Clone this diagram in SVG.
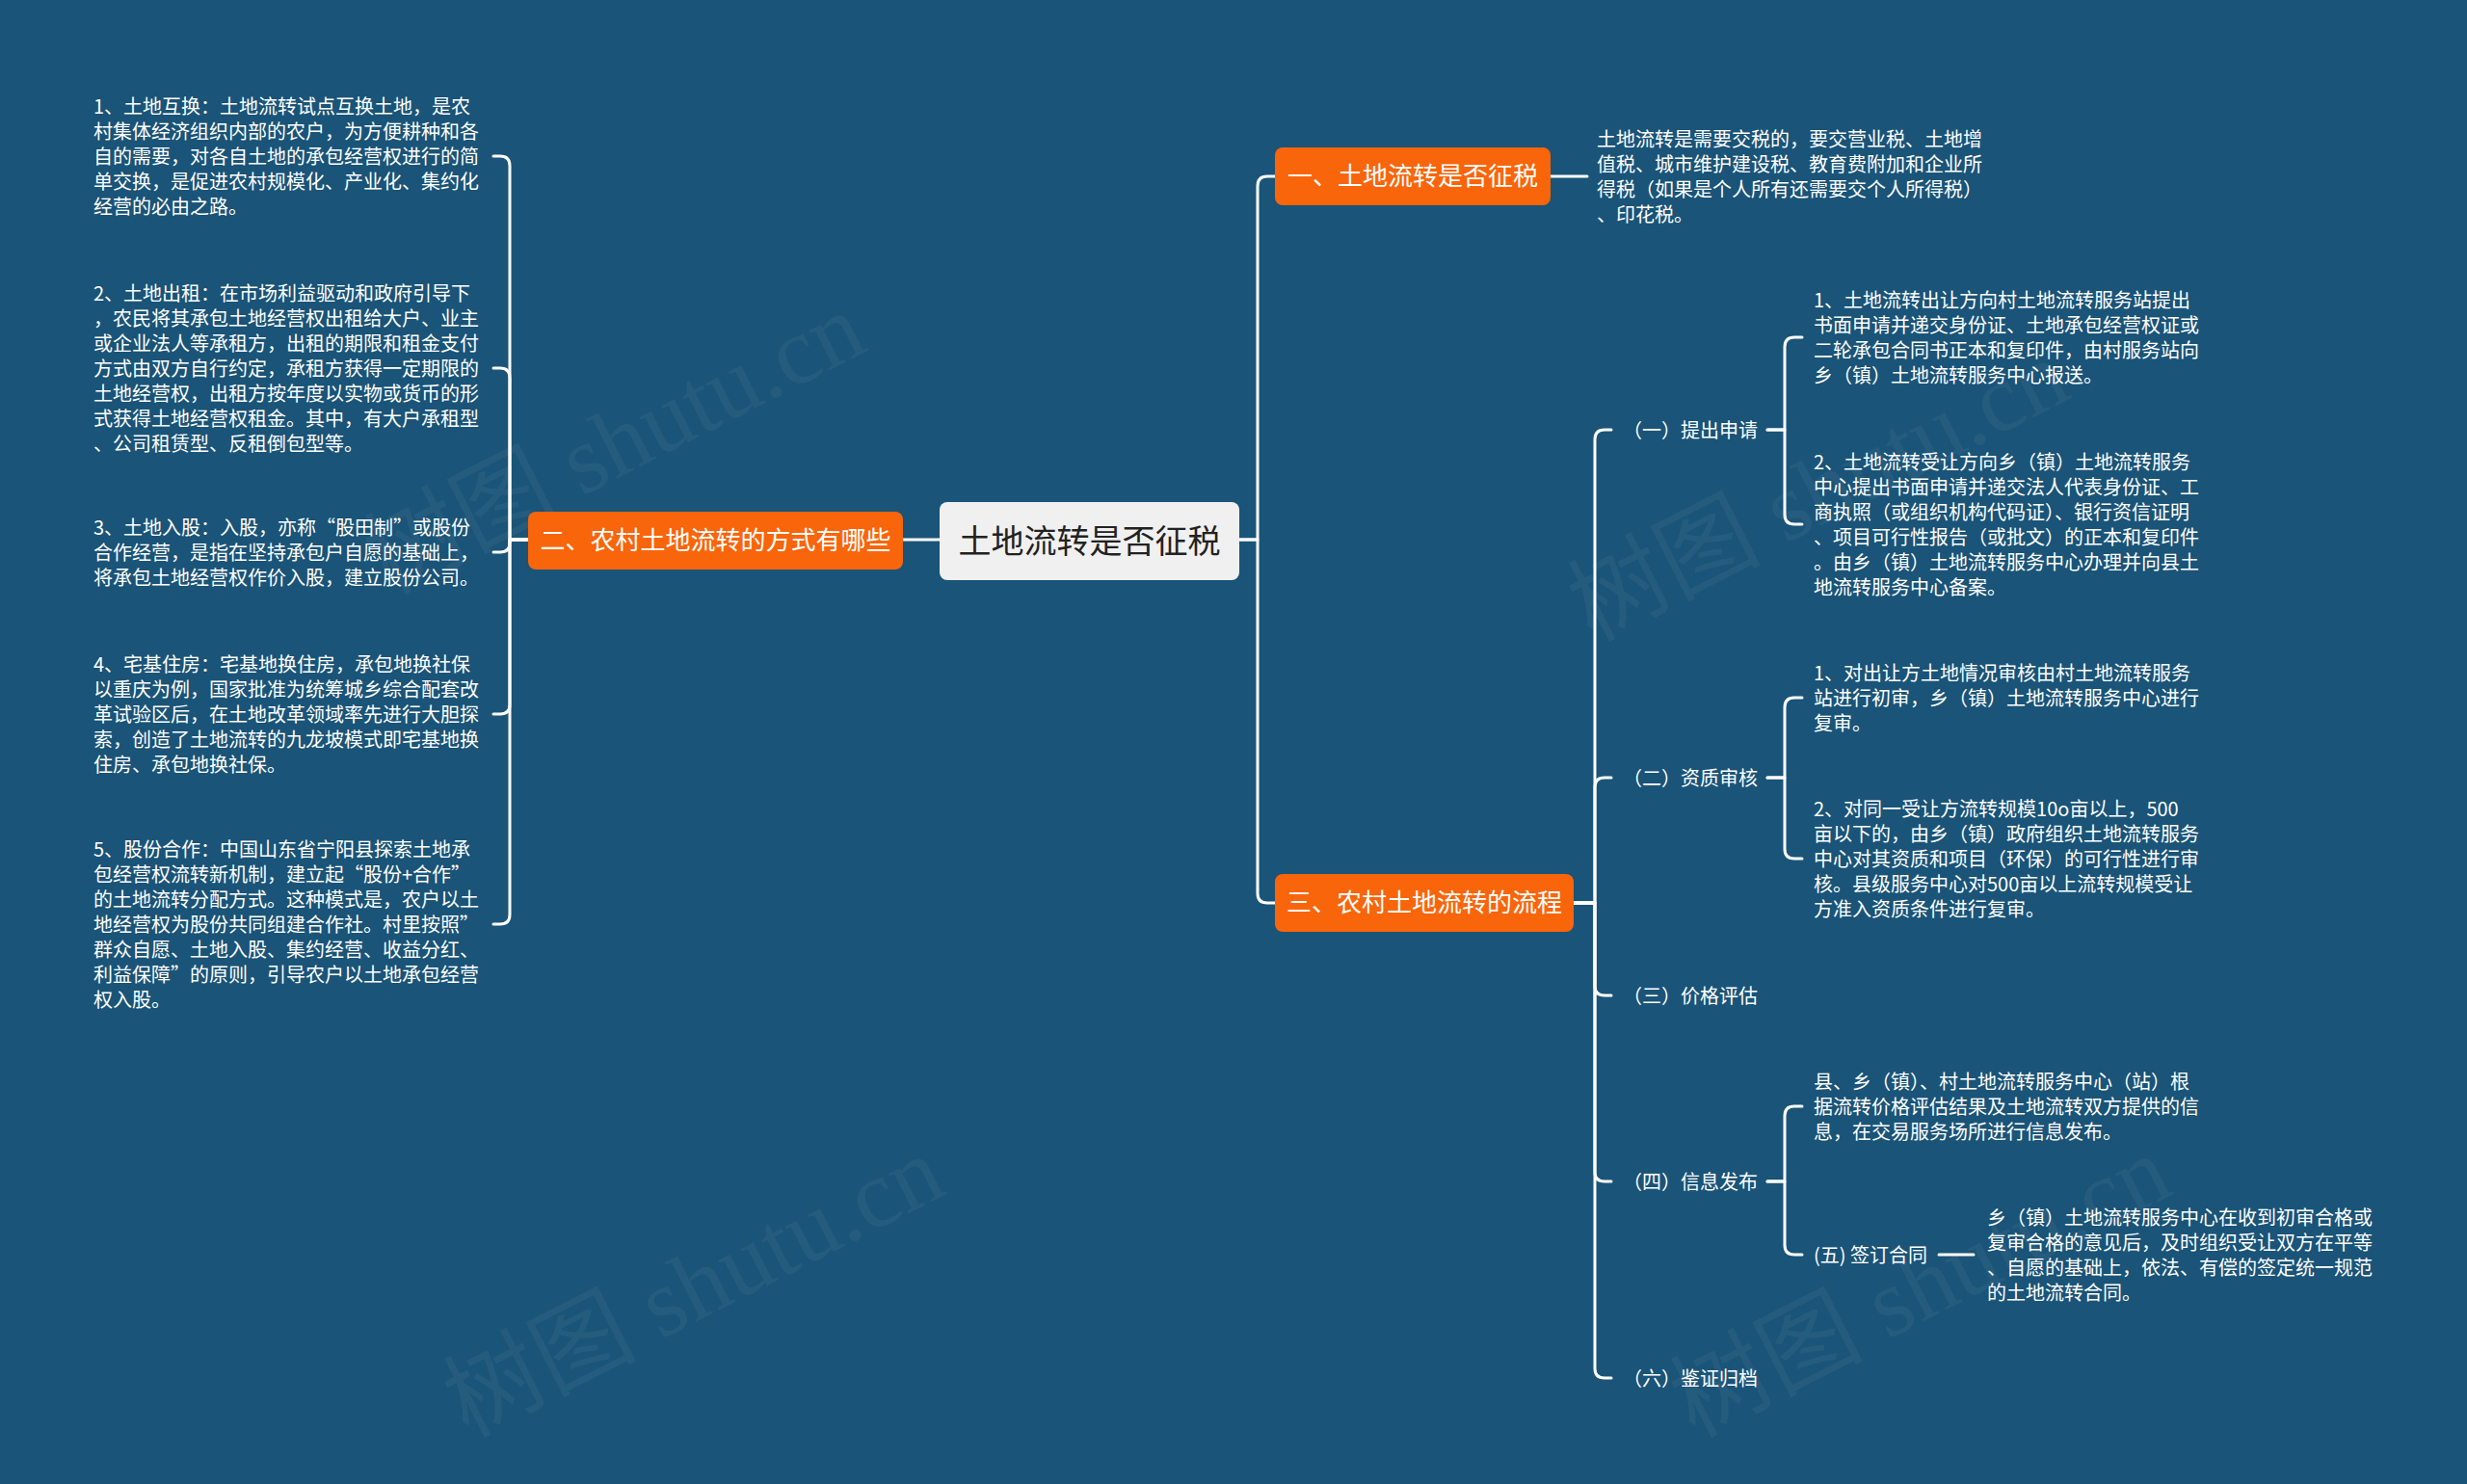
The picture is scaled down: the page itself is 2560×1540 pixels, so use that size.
<svg xmlns="http://www.w3.org/2000/svg" width="2560" height="1540" viewBox="0 0 2560 1540">
<style>
.bg{fill:#1a5478}
.wm{font-family:"Liberation Serif","Noto Sans CJK SC",serif;font-size:100px;fill:#ffffff;fill-opacity:0.05}
.conn{fill:none;stroke:#ffffff;stroke-width:3;stroke-linecap:round;stroke-linejoin:round}
.orange{fill:#f9650a}
.root{fill:#f0f0f0}
.t-root{font-family:"Noto Sans CJK SC","Noto Sans",sans-serif;font-size:34px;fill:#222222;text-anchor:middle}
.t-main{font-family:"Noto Sans CJK SC","Noto Sans",sans-serif;font-size:26px;fill:#ffffff;text-anchor:middle}
.t-body{font-family:"Noto Sans CJK SC","Noto Sans",sans-serif;font-size:20px;fill:#ffffff}
</style>
<rect class="bg" x="0" y="0" width="2560" height="1540"/>

<g id="watermarks">
<text class="wm" transform="translate(653,490) rotate(-27)" text-anchor="middle">树图 shutu.cn</text>
<text class="wm" transform="translate(1902,539) rotate(-27)" text-anchor="middle">树图 shutu.cn</text>
<text class="wm" transform="translate(735,1365) rotate(-27)" text-anchor="middle">树图 shutu.cn</text>
<text class="wm" transform="translate(2008,1365) rotate(-27)" text-anchor="middle">树图 shutu.cn</text>
</g>

<g id="connectors">
<!-- root to main branches -->
<path class="conn" d="M975,560 H937"/>
<path class="conn" d="M1286,560 H1305 V193 Q1305,183 1315,183 H1323"/>
<path class="conn" d="M1286,560 H1305 V927 Q1305,937 1315,937 H1323"/>
<!-- branch 二 to items -->
<path class="conn" d="M548,560 H529 V172 Q529,162 519,162 H512"/>
<path class="conn" d="M548,560 H529 V392 Q529,382 519,382 H512"/>
<path class="conn" d="M548,560 H529 V563 Q529,573 519,573 H512"/>
<path class="conn" d="M548,560 H529 V731 Q529,741 519,741 H512"/>
<path class="conn" d="M548,560 H529 V949 Q529,959 519,959 H512"/>
<!-- branch 一 -->
<path class="conn" d="M1609,183 H1647"/>
<!-- branch 三 to steps -->
<path class="conn" d="M1633,937 H1655 V456 Q1655,446 1665,446 H1672"/>
<path class="conn" d="M1633,937 H1655 V817 Q1655,807 1665,807 H1672"/>
<path class="conn" d="M1633,937 H1655 V1023 Q1655,1033 1665,1033 H1672"/>
<path class="conn" d="M1633,937 H1655 V1216 Q1655,1226 1665,1226 H1672"/>
<path class="conn" d="M1633,937 H1655 V1420 Q1655,1430 1665,1430 H1672"/>
<!-- (一) -->
<path class="conn" d="M1834,446 H1852 V360 Q1852,350 1862,350 H1870"/>
<path class="conn" d="M1834,446 H1852 V534 Q1852,544 1862,544 H1870"/>
<!-- (二) -->
<path class="conn" d="M1834,807 H1852 V734 Q1852,724 1862,724 H1870"/>
<path class="conn" d="M1834,807 H1852 V881 Q1852,891 1862,891 H1870"/>
<!-- (四) -->
<path class="conn" d="M1834,1226 H1852 V1158 Q1852,1148 1862,1148 H1870"/>
<path class="conn" d="M1834,1226 H1852 V1292 Q1852,1302 1862,1302 H1870"/>
<!-- (五) -->
<path class="conn" d="M2012,1302 H2048"/>
</g>

<g id="root">
<rect class="root" x="975" y="521" width="311" height="81" rx="8"/>
<text class="t-root" x="1130.5" y="574">土地流转是否征税</text>
</g>

<g id="branch-2">
<rect class="orange" x="548" y="531" width="389" height="60" rx="8"/>
<text class="t-main" x="742.5" y="570">二、农村土地流转的方式有哪些</text>
</g>

<g id="branch-1">
<rect class="orange" x="1323" y="153" width="286" height="60" rx="8"/>
<text class="t-main" x="1466" y="192">一、土地流转是否征税</text>
</g>

<g id="branch-3">
<rect class="orange" x="1323" y="907" width="310" height="60" rx="8"/>
<text class="t-main" x="1478" y="946">三、农村土地流转的流程</text>
</g>

<g id="b2-item1">
<text class="t-body">
<tspan x="97" y="118">1、土地互换：土地流转试点互换土地，是农</tspan>
<tspan x="97" y="144">村集体经济组织内部的农户，为方便耕种和各</tspan>
<tspan x="97" y="170">自的需要，对各自土地的承包经营权进行的简</tspan>
<tspan x="97" y="196">单交换，是促进农村规模化、产业化、集约化</tspan>
<tspan x="97" y="222">经营的必由之路。</tspan>
</text>
</g>

<g id="b2-item2">
<text class="t-body">
<tspan x="97" y="312">2、土地出租：在市场利益驱动和政府引导下</tspan>
<tspan x="97" y="338">，农民将其承包土地经营权出租给大户、业主</tspan>
<tspan x="97" y="364">或企业法人等承租方，出租的期限和租金支付</tspan>
<tspan x="97" y="390">方式由双方自行约定，承租方获得一定期限的</tspan>
<tspan x="97" y="416">土地经营权，出租方按年度以实物或货币的形</tspan>
<tspan x="97" y="442">式获得土地经营权租金。其中，有大户承租型</tspan>
<tspan x="97" y="468">、公司租赁型、反租倒包型等。</tspan>
</text>
</g>

<g id="b2-item3">
<text class="t-body">
<tspan x="97" y="555">3、土地入股：入股，亦称“股田制”或股份</tspan>
<tspan x="97" y="581">合作经营，是指在坚持承包户自愿的基础上，</tspan>
<tspan x="97" y="607">将承包土地经营权作价入股，建立股份公司。</tspan>
</text>
</g>

<g id="b2-item4">
<text class="t-body">
<tspan x="97" y="697">4、宅基住房：宅基地换住房，承包地换社保</tspan>
<tspan x="97" y="723">以重庆为例，国家批准为统筹城乡综合配套改</tspan>
<tspan x="97" y="749">革试验区后，在土地改革领域率先进行大胆探</tspan>
<tspan x="97" y="775">索，创造了土地流转的九龙坡模式即宅基地换</tspan>
<tspan x="97" y="801">住房、承包地换社保。</tspan>
</text>
</g>

<g id="b2-item5">
<text class="t-body">
<tspan x="97" y="889">5、股份合作：中国山东省宁阳县探索土地承</tspan>
<tspan x="97" y="915">包经营权流转新机制，建立起“股份+合作”</tspan>
<tspan x="97" y="941">的土地流转分配方式。这种模式是，农户以土</tspan>
<tspan x="97" y="967">地经营权为股份共同组建合作社。村里按照”</tspan>
<tspan x="97" y="993">群众自愿、土地入股、集约经营、收益分红、</tspan>
<tspan x="97" y="1019">利益保障”的原则，引导农户以土地承包经营</tspan>
<tspan x="97" y="1045">权入股。</tspan>
</text>
</g>

<g id="b1-item">
<text class="t-body">
<tspan x="1657" y="152">土地流转是需要交税的，要交营业税、土地增</tspan>
<tspan x="1657" y="178">值税、城市维护建设税、教育费附加和企业所</tspan>
<tspan x="1657" y="204">得税（如果是个人所有还需要交个人所得税）</tspan>
<tspan x="1657" y="230">、印花税。</tspan>
</text>
</g>

<g id="step-1"><text class="t-body" x="1684" y="454">（一）提出申请</text></g>
<g id="step-2"><text class="t-body" x="1684" y="815">（二）资质审核</text></g>
<g id="step-3"><text class="t-body" x="1684" y="1041">（三）价格评估</text></g>
<g id="step-4"><text class="t-body" x="1684" y="1234">（四）信息发布</text></g>
<g id="step-5"><text class="t-body" x="1882" y="1310">(五) 签订合同</text></g>
<g id="step-6"><text class="t-body" x="1684" y="1438">（六）鉴证归档</text></g>

<g id="step1-item1">
<text class="t-body">
<tspan x="1882" y="319">1、土地流转出让方向村土地流转服务站提出</tspan>
<tspan x="1882" y="345">书面申请并递交身份证、土地承包经营权证或</tspan>
<tspan x="1882" y="371">二轮承包合同书正本和复印件，由村服务站向</tspan>
<tspan x="1882" y="397">乡（镇）土地流转服务中心报送。</tspan>
</text>
</g>

<g id="step1-item2">
<text class="t-body">
<tspan x="1882" y="487">2、土地流转受让方向乡（镇）土地流转服务</tspan>
<tspan x="1882" y="513">中心提出书面申请并递交法人代表身份证、工</tspan>
<tspan x="1882" y="539">商执照（或组织机构代码证）、银行资信证明</tspan>
<tspan x="1882" y="565">、项目可行性报告（或批文）的正本和复印件</tspan>
<tspan x="1882" y="591">。由乡（镇）土地流转服务中心办理并向县土</tspan>
<tspan x="1882" y="617">地流转服务中心备案。</tspan>
</text>
</g>

<g id="step2-item1">
<text class="t-body">
<tspan x="1882" y="706">1、对出让方土地情况审核由村土地流转服务</tspan>
<tspan x="1882" y="732">站进行初审，乡（镇）土地流转服务中心进行</tspan>
<tspan x="1882" y="758">复审。</tspan>
</text>
</g>

<g id="step2-item2">
<text class="t-body">
<tspan x="1882" y="847">2、对同一受让方流转规模10o亩以上，500</tspan>
<tspan x="1882" y="873">亩以下的，由乡（镇）政府组织土地流转服务</tspan>
<tspan x="1882" y="899">中心对其资质和项目（环保）的可行性进行审</tspan>
<tspan x="1882" y="925">核。县级服务中心对500亩以上流转规模受让</tspan>
<tspan x="1882" y="951">方准入资质条件进行复审。</tspan>
</text>
</g>

<g id="step4-item1">
<text class="t-body">
<tspan x="1882" y="1130">县、乡（镇）、村土地流转服务中心（站）根</tspan>
<tspan x="1882" y="1156">据流转价格评估结果及土地流转双方提供的信</tspan>
<tspan x="1882" y="1182">息，在交易服务场所进行信息发布。</tspan>
</text>
</g>

<g id="step5-item1">
<text class="t-body">
<tspan x="2062" y="1271">乡（镇）土地流转服务中心在收到初审合格或</tspan>
<tspan x="2062" y="1297">复审合格的意见后，及时组织受让双方在平等</tspan>
<tspan x="2062" y="1323">、自愿的基础上，依法、有偿的签定统一规范</tspan>
<tspan x="2062" y="1349">的土地流转合同。</tspan>
</text>
</g>
</svg>
